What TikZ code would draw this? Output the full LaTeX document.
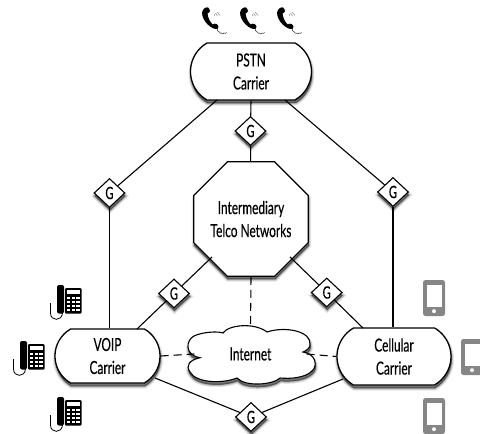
\documentclass[tikz,border=0pt]{standalone}
\usepackage{fontspec}
\setmainfont[FakeStretch=0.66,FakeBold=0.3]{Lato}
\usetikzlibrary{shapes.geometric,shapes.misc,calc}
\tikzset{
  x=1pt,y=-1pt,
  softshadow/.style={
    preaction={draw=black,fill=black,opacity=.10,line width=5pt,transform canvas={xshift=.5pt,yshift=-3pt}},
    preaction={draw=black,fill=black,opacity=.16,line width=3pt,transform canvas={xshift=.5pt,yshift=-3pt}},
    preaction={draw=black,fill=black,opacity=.30,line width=1pt,transform canvas={xshift=.5pt,yshift=-3pt}}},
  carrier/.style={softshadow,draw=black,line width=1.3pt,fill=white,rounded rectangle,rounded rectangle arc length=120,align=center,font=\fontsize{18}{23}\selectfont,inner sep=0pt},
  octa/.style={softshadow,regular polygon,regular polygon sides=8,draw=black,line width=1.2pt,fill=white,minimum size=117pt,inner sep=0pt,align=center,font=\fontsize{18}{23}\selectfont},
  gate/.style={softshadow,diamond,draw=black,line width=1.1pt,fill=white,inner sep=0pt,minimum width=31pt,minimum height=29pt,font=\fontsize{17}{17}\selectfont},
  link/.style={draw=black,line width=1.1pt},
  dlink/.style={draw=black,line width=1.1pt,dash pattern=on 8pt off 5pt},
  tablet/.pic={
    \fill[gray!95] (-11,-17) [rounded corners=2.5pt] rectangle (11,19);
    \fill[white] (-7.5,-12) rectangle (7.5,10);
    \fill[white] (0,14.2) circle (2pt);
  },
  deskphone/.pic={
    \fill[black] (-8,-20) [rounded corners=2pt] rectangle (-1,8.5);
    \draw[black,line width=.8pt] (-14.5,-2) -- (-14.5,8) .. controls (-14.5,16.5) and (-3,16.5) .. (-2.5,8);
    \fill[black] (0,-17) [rounded corners=1pt] rectangle (16.5,8.5);
    \fill[white] (2,-15) rectangle (14.5,-11.5);
    \foreach \xx in {2,6.6,11.2}\foreach \yy in {-8.5,-4.5,-.5,3.5}{\fill[white] (\xx,\yy) rectangle +(3.3,2.9);}
  },
  handset/.pic={
    \fill[black] (-4,-13.5) .. controls (-1,-15) and (0,-14) .. (1,-10.5) .. controls (1,-8.8) and (-1,-8.5) .. (-1.5,-8) .. controls (-1,-3) and (2,2) .. (4,3) .. controls (5,2.5) and (6,1.5) .. (7.5,2.5) .. controls (10,4.5) and (10,6) .. (8.5,7.5) .. controls (3,8.5) and (-7,0) .. (-7,-9) .. controls (-7,-11) and (-5,-13) .. (-4,-13.5) -- cycle;
    \draw[black,line width=.4pt] (8,7.5) .. controls (9,11) and (10,10) .. (10.5,10.5) .. controls (10,12) and (12,12) .. (12.5,11.5) .. controls (13,13) and (15,12.5) .. (15,11.5) .. controls (16,12) and (17,12) .. (17.5,11);
    \draw[black!60,line width=.35pt] (5,-7.5) -- (6,-5.5);
    \draw[black!60,line width=.35pt] (6.5,-8.5) -- (8.5,-5.5);
    \draw[black!60,line width=.35pt] (8,-9.5) -- (11,-6);
  }
}
\begin{document}
\begin{tikzpicture}
\useasboundingbox (0,0) rectangle (480,434);
% carrier, network and gateway nodes
\node[carrier,minimum width=121pt,minimum height=57pt] (pstn) at (251,71.5) {PSTN\\Carrier};
\node[carrier,minimum width=105pt,minimum height=54pt] (voip) at (107.5,356) {VOIP\\Carrier};
\node[carrier,minimum width=114pt,minimum height=57pt] (cell) at (394,356.5) {Cellular\\Carrier};
\node[octa] (tel) at (251,219) {Intermediary\\Telco Networks};
\path[softshadow,draw=black,line width=1.1pt,fill=white]
 (200,357.7) .. controls (184,355) and (186,340) .. (194,336)
 .. controls (202,332) and (218,331) .. (223,333)
 .. controls (228,325) and (254,322) .. (267,332)
 .. controls (285,326) and (312,331) .. (310,345)
 .. controls (310,348) and (306,351) .. (303,352)
 .. controls (316,354) and (318,366) .. (312,371)
 .. controls (305,378) and (290,379) .. (280,378)
 .. controls (273,385) and (245,387) .. (237,378)
 .. controls (222,384) and (196,383) .. (190,372)
 .. controls (185,365) and (190,360) .. (200,357.7) -- cycle;
\node[minimum width=112pt,minimum height=52pt,inner sep=0pt,font=\fontsize{18}{20}\selectfont] (net) at (250.5,354) {Internet};
\node[gate] (gt) at (250.5,131) {G};
\node[gate] (gl) at (109.5,193) {G};
\node[gate] (gr) at (393,192) {G};
\node[gate] (gll) at (174,293.5) {G};
\node[gate] (glr) at (326.7,292.5) {G};
\node[gate] (gb) at (251,417) {G};
% connectors
\draw[link] (pstn.south) -- (gt);
\draw[link] (gt) -- (tel);
\coordinate (pl) at (217,100);
\coordinate (pr) at (285,100);
\draw[link] (pl) -- (gl);
\draw[link] (pr) -- (gr);
\draw[link] (gl) -- (gl|-voip.north);
\draw[link] (gr) -- (gr|-cell.north);
\coordinate (tl) at (212,257);
\coordinate (tr) at (290,257);
\draw[link] (tl) -- (gll);
\draw[link] (tr) -- (glr);
\coordinate (vu) at (137,329);
\coordinate (cu) at (363,328);
\draw[link] (gll) -- (vu);
\draw[link] (glr) -- (cu);
\coordinate (vd) at (155,378);
\coordinate (cd) at (343,379);
\draw[link] (vd) -- (gb);
\draw[link] (gb) -- (cd);
\draw[dlink] (tel.south) -- (net.north);
\draw[dlink] (voip.east) -- (net.west);
\draw[dlink] (net.east) -- (cell.west);
% icons
\foreach \xx in {209,247,284}{\pic at (\xx,21.5) {handset};}
\pic at (65,305) {deskphone};
\pic at (28,361) {deskphone};
\pic at (65,417) {deskphone};
\pic at (434,297) {tablet};
\pic at (472,356) {tablet};
\pic at (434,415) {tablet};
\end{tikzpicture}
\end{document}
